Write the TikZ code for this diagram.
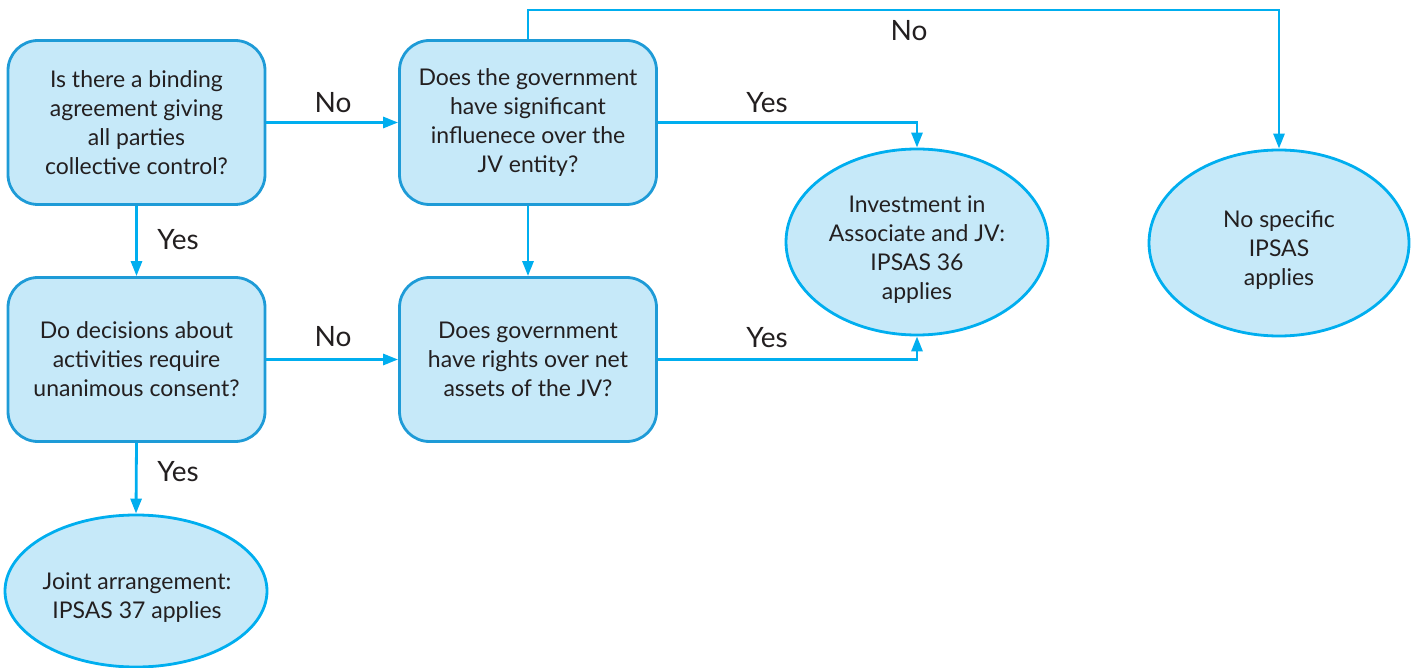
\documentclass[tikz,border=0pt]{standalone}
\usepackage{fontspec}
\setmainfont{Lato}
\usetikzlibrary{arrows.meta,shapes.geometric}
\definecolor{boxfill}{HTML}{C6E9F9}
\definecolor{boxline}{HTML}{1E9BD7}
\definecolor{flow}{HTML}{00AEEF}
\definecolor{ink}{HTML}{231F20}
\tikzset{
  question/.style={draw=boxline, fill=boxfill, line width=2.8pt, rounded corners=30pt,
    minimum width=257pt, minimum height=164pt, align=center, text=ink,
    font=\fontsize{23}{29}\selectfont, inner sep=0pt},
  outcome/.style={ellipse, draw=flow, fill=boxfill, line width=2.8pt, inner sep=0pt},
  outtext/.style={align=center, text=ink, font=\fontsize{23}{29}\selectfont, inner sep=0pt},
  flowline/.style={draw=flow, line width=2.8pt, -{Triangle[length=15pt,width=11pt]}},
  answer/.style={text=ink, font=\fontsize{28}{30}\selectfont, inner sep=0pt}
}
\begin{document}
\begin{tikzpicture}[x=1pt,y=-1pt]
\useasboundingbox (0,0) rectangle (1415,668);

% decision boxes
\node[question] (bind) at (136.5,122.5) {Is there a binding\\agreement giving\\all parties\\collective control?};
\node[question] (infl) at (528,122.5) {Does the government\\have significant\\influenece over the\\JV entity?};
\node[question] (unan) at (136.5,359.5) {Do decisions about\\activities require\\unanimous consent?};
\node[question] (rights) at (528,359.5) {Does government\\have rights over net\\assets of the JV?};

% outcomes: the ellipse, then its text set a little below the centre
\node[outcome, minimum width=262pt, minimum height=152pt] (joint) at (136,591) {};
\node[outtext] (joint-t) at (137,598) {Joint arrangement:\\IPSAS 37 applies};
\node[outcome, minimum width=262pt, minimum height=186pt] (assoc) at (917,242) {};
\node[outtext] (assoc-t) at (917,250) {Investment in\\Associate and JV:\\IPSAS 36\\applies};
\node[outcome, minimum width=260pt, minimum height=186pt] (none) at (1279,243) {};
\node[outtext] (none-t) at (1279,250) {No specific\\IPSAS\\applies};

% connectors
\draw[flowline] (bind.east) -- (infl.west);
\draw[flowline] (bind.south) -- (unan.north);
\draw[flowline] (infl.south) -- (rights.north);
\draw[flowline] (infl.east) -| (assoc.north);
\draw[flowline] (infl.north) |- (900,10) -| (none.north);
\draw[flowline] (unan.east) -- (rights.west);
\draw[flowline] (rights.east) -| (assoc.south);
\draw[flowline] (unan.south) -- (joint.north);

% answer labels
\node[answer] (a1) at (333,103) {No};
\node[answer] (a2) at (178,240) {Yes};
\node[answer] (a3) at (767,103) {Yes};
\node[answer] (a4) at (909,31) {No};
\node[answer] (a5) at (333,337) {No};
\node[answer] (a6) at (767,338) {Yes};
\node[answer] (a7) at (178,472) {Yes};
\end{tikzpicture}
\end{document}
